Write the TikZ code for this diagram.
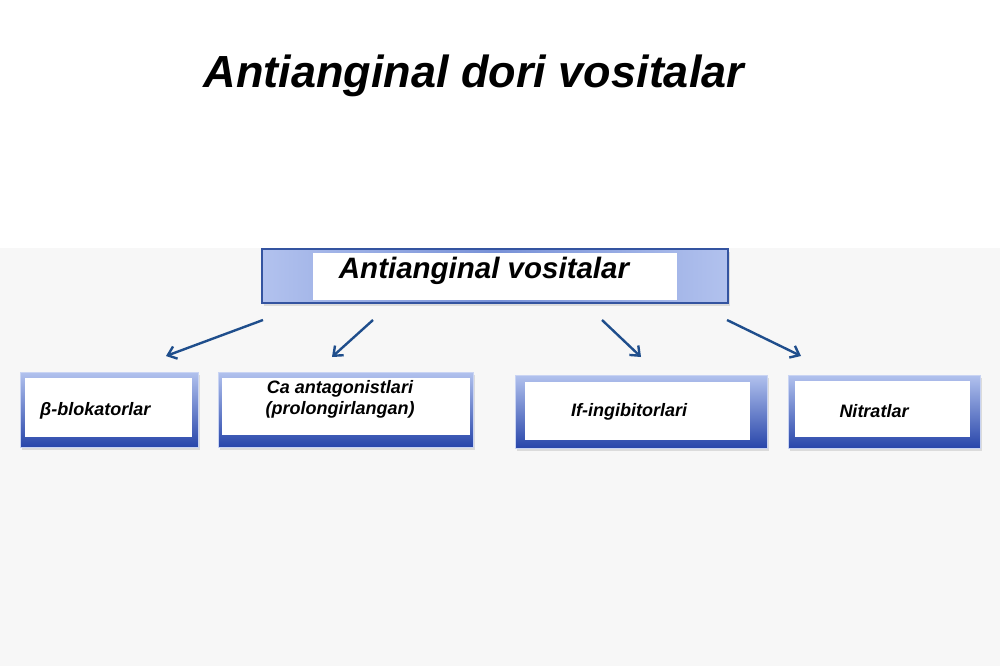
\documentclass[tikz,border=0pt]{standalone}
\usepackage{fontspec}
\setmainfont{Liberation Sans}
\usetikzlibrary{arrows.meta}
\definecolor{bgrey}{RGB}{247,247,247}
\definecolor{edgeblue}{RGB}{52,84,160}
\definecolor{lightblue}{RGB}{178,194,238}
\definecolor{midblue}{RGB}{120,145,215}
\definecolor{deepblue}{RGB}{40,70,170}
\definecolor{arrowblue}{RGB}{31,78,140}
\begin{document}
\begin{tikzpicture}[x=1pt,y=-1pt,
  bigframe/.style={draw=edgeblue, line width=1.4pt, left color=lightblue, right color=lightblue, middle color=midblue, minimum width=466pt, minimum height=54pt, inner sep=0pt},
  smallframe/.style={draw=lightblue!70!white, line width=0.6pt, top color=lightblue, bottom color=deepblue, inner sep=0pt},
  innerbox/.style={fill=white, draw=none, inner sep=0pt},
  shadowbox/.style={fill=black!30, opacity=0.4, draw=none, inner sep=0pt},
  lbl/.style={font=\fontsize{18}{21}\selectfont\bfseries\itshape, inner sep=0pt, align=center},
  arr/.style={draw=arrowblue, line width=2.4pt, -{Straight Barb[length=8pt,width=13pt,line width=2.4pt]}}
]
\useasboundingbox (0,0) rectangle (1000,666);
\fill[white] (0,0) rectangle (1000,248);
\fill[bgrey] (0,248) rectangle (1000,666);

% title
\node[font=\fontsize{45}{54}\selectfont\bfseries\itshape, inner sep=0pt] (title) at (474,76) {Antianginal dori vositalar};

% top box
\node[shadowbox, minimum width=466pt, minimum height=54pt] (topsh) at (497,279) {};
\node[bigframe] (top) at (495,276) {};
\node[innerbox, minimum width=364pt, minimum height=47pt] (topin) at (494.5,276.5) {};
\node[font=\fontsize{29.5}{34}\selectfont\bfseries\itshape, inner sep=0pt] (toptext) at (484,271) {Antianginal vositalar};

% bottom boxes: shadows
\node[shadowbox, minimum width=178pt, minimum height=75pt] (s1) at (111,412) {};
\node[shadowbox, minimum width=255pt, minimum height=75pt] (s2) at (347,412) {};
\node[shadowbox, minimum width=252pt, minimum height=73pt] (s3) at (643,414) {};
\node[shadowbox, minimum width=192pt, minimum height=73pt] (s4) at (886,414) {};

% frames
\node[smallframe, minimum width=178pt, minimum height=75pt] (b1) at (109,409.5) {};
\node[smallframe, minimum width=255pt, minimum height=75pt] (b2) at (345.5,409.5) {};
\node[smallframe, minimum width=252pt, minimum height=73pt] (b3) at (641,411.5) {};
\node[smallframe, minimum width=192pt, minimum height=73pt] (b4) at (884,411.5) {};

% inner white areas
\node[innerbox, minimum width=167pt, minimum height=59pt] (i1) at (108.5,407.5) {};
\node[innerbox, minimum width=248pt, minimum height=57pt] (i2) at (346,406.5) {};
\node[innerbox, minimum width=225pt, minimum height=58pt] (i3) at (637.5,411) {};
\node[innerbox, minimum width=175pt, minimum height=56pt] (i4) at (882.5,409) {};

% labels
\node[lbl, anchor=west] (t1) at (40,411) {β-blokatorlar};
\node[lbl] (t2) at (340,399) {Ca antagonistlari\\(prolongirlangan)};
\node[lbl] (t3) at (629,412) {If-ingibitorlari};
\node[lbl] (t4) at (874,411) {Nitratlar};

% arrows
\coordinate (a1s) at (263,320); \coordinate (a1e) at (166,356);
\coordinate (a2s) at (373,320); \coordinate (a2e) at (332,357);
\coordinate (a3s) at (602,320); \coordinate (a3e) at (641,357);
\coordinate (a4s) at (727,320); \coordinate (a4e) at (801,356);
\draw[arr] (a1s) -- (a1e);
\draw[arr] (a2s) -- (a2e);
\draw[arr] (a3s) -- (a3e);
\draw[arr] (a4s) -- (a4e);
\end{tikzpicture}
\end{document}
